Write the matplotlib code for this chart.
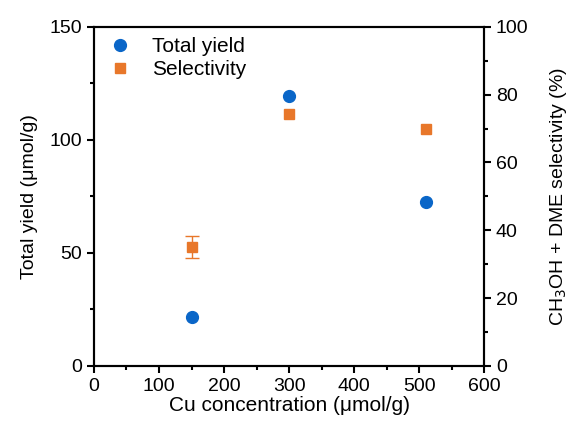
import numpy as np
import matplotlib.pyplot as plt
from matplotlib.ticker import MultipleLocator

plt.rcParams['font.family'] = ['Liberation Sans', 'DejaVu Sans']

# data
cu_conc = [150, 300, 510]
total_yield = [21.8, 119.3, 72.5]
selectivity = [35.1, 74.3, 69.8]
selectivity_err = [3.3, 0, 0]

blue = '#0A66C8'
orange = '#E8772A'

fig = plt.figure(figsize=(5.73, 4.26), dpi=100)
ax = fig.add_axes([0.164, 0.141, 0.681, 0.796])
ax2 = ax.twinx()

ax.plot(cu_conc, total_yield, 'o', color=blue, ms=8.5, label='Total yield')
# only draw error bars where an error was shown
for x, y, e in zip(cu_conc, selectivity, selectivity_err):
    if e > 0:
        ax2.errorbar(x, y, yerr=e, fmt='none', ecolor=orange,
                     capsize=5, elinewidth=1, capthick=1)
ax2.plot(cu_conc, selectivity, 's', color=orange, ms=7.5, label='Selectivity')

ax.set_xlim(0, 600)
ax.set_ylim(0, 150)
ax2.set_ylim(0, 100)
ax.xaxis.set_major_locator(MultipleLocator(100))
ax.xaxis.set_minor_locator(MultipleLocator(50))
ax.yaxis.set_major_locator(MultipleLocator(50))
ax.yaxis.set_minor_locator(MultipleLocator(25))
ax2.yaxis.set_major_locator(MultipleLocator(20))
ax2.yaxis.set_minor_locator(MultipleLocator(10))

for a in (ax, ax2):
    a.tick_params(which='major', direction='out', length=5, width=1.5)
    a.tick_params(which='minor', direction='out', length=3, width=1.5)
    for s in a.spines.values():
        s.set_linewidth(1.5)
ax.tick_params(axis='both', labelsize=14)
ax2.tick_params(axis='y', labelsize=14)

ax.set_xlabel('Cu concentration (μmol/g)', fontsize=15, labelpad=1)
ax.set_ylabel('Total yield (μmol/g)', fontsize=14, labelpad=8)
ax2.set_ylabel('CH$_3$OH + DME selectivity (%)', fontsize=14, labelpad=14)

h1, l1 = ax.get_legend_handles_labels()
h2, l2 = ax2.get_legend_handles_labels()
ax2.legend(h1 + h2, l1 + l2, loc='upper left', frameon=False, fontsize=15,
           handletextpad=0.8, borderaxespad=0.1, handlelength=1.5,
           labelspacing=0.2)

fig.savefig('out.png', dpi=100)
